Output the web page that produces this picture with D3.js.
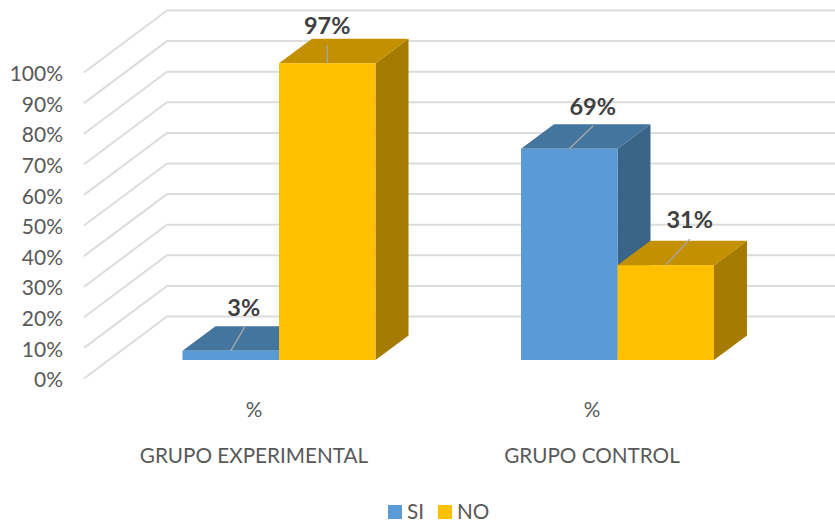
<!DOCTYPE html>
<html>
<head>
<meta charset="utf-8">
<script src="https://cdn.jsdelivr.net/npm/d3@7"></script>
<style>
html,body{margin:0;padding:0;background:#fff}
svg{display:block}
text{font-family:Lato,"Noto Sans",sans-serif}
</style>
</head>
<body>
<svg id="chart" width="835" height="523"></svg>
<script>
const groups = ["GRUPO EXPERIMENTAL", "GRUPO CONTROL"];
const subLabel = "%";
const seriesNames = ["SI", "NO"];
const siValues = [3, 69];
const noValues = [97, 31];
const yTicks = [0, 10, 20, 30, 40, 50, 60, 70, 80, 90, 100];

const faces = {
  SI: {front: "#5b9bd5", top: "#44759f", side: "#3a6488"},
  NO: {front: "#ffc000", top: "#c29000", side: "#a57b00"}
};
const depthX = 33, depthY = 24.5;
const wallX = 84, wallDX = 83, wallDY = 62;

const svg = d3.select("#chart");
const y = d3.scaleLinear().domain([0, 100]).range([378.5, 72.5]);
const h = d => y(0) - y(d);
const floorY = 360;

// Group positions
const x0 = d3.scalePoint().domain(groups).range([279, 617.5]);
const barW = 96.5;
const x1 = d3.scaleBand().domain(seriesNames).range([-barW, barW]);

// Gridlines on the wall
const gridColor = "#dcdcdc";
const grid = svg.append("g").attr("fill", "none").attr("stroke", gridColor).attr("stroke-width", 2);
grid.selectAll("path").data(yTicks).join("path")
  .attr("d", d => `M${wallX},${y(d)}L${wallX + wallDX},${y(d) - wallDY}L835,${y(d) - wallDY}`);

// Y axis
const yAxis = svg.append("g").attr("transform", "translate(71,1.5)")
  .call(d3.axisLeft(y).tickValues(yTicks).tickSize(0).tickPadding(8).tickFormat(d => d + "%"));
yAxis.select(".domain").remove();
yAxis.selectAll("text").attr("font-size", 21).attr("fill", "#595959").style("font-family", "Lato,'Noto Sans',sans-serif");

// Bars
const rows = [];
groups.forEach((g, i) => {
  rows.push({g, s: "SI", v: siValues[i]});
  rows.push({g, s: "NO", v: noValues[i]});
});
const bars = svg.append("g").selectAll("g").data(rows).join("g");
const left = d => x0(d.g) + x1(d.s);
const topY = d => floorY - h(d.v);
bars.append("path").attr("fill", d => faces[d.s].side)
  .attr("d", d => {
    const r = left(d) + barW;
    return `M${r},${floorY}L${r + depthX},${floorY - depthY}L${r + depthX},${topY(d) - depthY}L${r},${topY(d)}Z`;
  });
bars.append("path").attr("fill", d => faces[d.s].top)
  .attr("d", d => {
    const l = left(d), t = topY(d);
    return `M${l},${t}L${l + depthX},${t - depthY}L${l + barW + depthX},${t - depthY}L${l + barW},${t}Z`;
  });
bars.append("rect").attr("fill", d => faces[d.s].front)
  .attr("x", left).attr("y", topY).attr("width", barW).attr("height", d => h(d.v));

// Data labels with leader lines: offsets from the bar's front top centre
const leaderOffsets = {
  "GRUPO EXPERIMENTAL|SI": {lx: 14, ly: -24, tx: 13, ty: -35},
  "GRUPO EXPERIMENTAL|NO": {lx: 0, ly: -18, tx: 0, ty: -29},
  "GRUPO CONTROL|SI": {lx: 24, ly: -23, tx: 23.5, ty: -34},
  "GRUPO CONTROL|NO": {lx: 24, ly: -26, tx: 24, ty: -37}
};
const labels = svg.append("g").selectAll("g").data(rows).join("g");
const off = d => leaderOffsets[d.g + "|" + d.s];
labels.append("line").attr("stroke", "#a6a6a6").attr("stroke-width", 1.4)
  .attr("x1", d => left(d) + barW / 2).attr("y1", topY)
  .attr("x2", d => left(d) + barW / 2 + off(d).lx).attr("y2", d => topY(d) + off(d).ly);
labels.append("text").attr("text-anchor", "middle").attr("font-size", 23.5).attr("font-weight", 700).attr("fill", "#404040")
  .attr("x", d => left(d) + barW / 2 + off(d).tx).attr("y", d => topY(d) + off(d).ty)
  .text(d => d.v + "%");

// Category axis
const xAxis = svg.append("g").selectAll("g").data(groups).join("g");
const catX = d3.scalePoint().domain(groups).range([254, 592]);
xAxis.append("text").attr("text-anchor", "middle").attr("font-size", 20.7).attr("fill", "#595959")
  .attr("x", d => catX(d)).attr("y", 417).text(subLabel);
xAxis.append("text").attr("text-anchor", "middle").attr("font-size", 20.7).attr("fill", "#595959")
  .attr("x", d => catX(d)).attr("y", 463).text(d => d);

// Legend
const lg = svg.append("g").selectAll("g").data(seriesNames).join("g")
  .attr("transform", (d, i) => `translate(${388 + i * 50},505)`);
lg.append("rect").attr("width", 14).attr("height", 14).attr("fill", d => faces[d].front);
lg.append("text").attr("x", 19).attr("y", 14).attr("font-size", 20.7).attr("fill", "#595959").text(d => d);
</script>
</body>
</html>
